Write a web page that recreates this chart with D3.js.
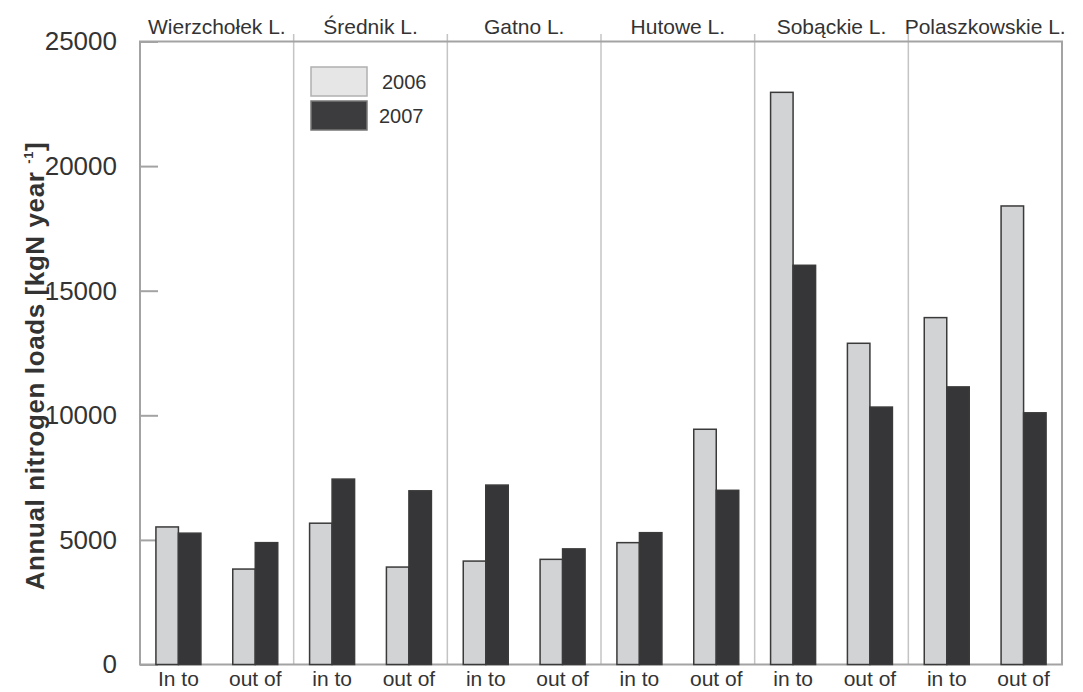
<!DOCTYPE html>
<html>
<head>
<meta charset="utf-8">
<script src="https://cdn.jsdelivr.net/npm/d3@7"></script>
<style>
  html, body { margin: 0; padding: 0; background: #fff; }
  svg { display: block; font-family: "Liberation Sans", Arial, Helvetica, sans-serif; }
</style>
</head>
<body>
<svg id="chart" width="1083" height="692"></svg>
<script>
// Lakes (groups), flow direction per bar pair, and annual loads per year
const lakes = ["Wierzchołek L.", "Średnik L.", "Gatno L.", "Hutowe L.", "Sobąckie L.", "Polaszkowskie L."];
const flowLabels = ["In to", "out of", "in to", "out of", "in to", "out of",
                    "in to", "out of", "in to", "out of", "in to", "out of"];
const years = ["2006", "2007"];
const load2006 = [5520, 3830, 5670, 3910, 4150, 4220, 4890, 9440, 22960, 12890, 13920, 18400];
const load2007 = [5270, 4890, 7440, 6970, 7200, 4640, 5290, 6990, 16020, 10330, 11140, 10100];
const yTicks = [0, 5000, 10000, 15000, 20000, 25000];

const svg = d3.select("#chart");
const plotLeft = 140, plotRight = 1062, plotTop = 41.5, plotBottom = 664.5;
const textColor = "#333";
const fills = { "2006": "#d2d3d5", "2007": "#363638" };

const slots = d3.range(flowLabels.length);
const x = d3.scaleBand().domain(slots).range([plotLeft, plotRight]).padding(0);
const xYear = d3.scaleBand().domain(years).range([0, 45]).padding(0);
const y = d3.scaleLinear().domain([0, 25000]).range([plotBottom, plotTop]);

// lake separators, extending above the frame
const groupEdges = d3.range(1, lakes.length).map(i => x(i * 2));
svg.append("g").selectAll("line").data(groupEdges).join("line")
  .attr("x1", d => d).attr("x2", d => d)
  .attr("y1", 34).attr("y2", plotBottom)
  .attr("stroke", "#c4c4c4").attr("stroke-width", 1.5);

// plot frame
svg.append("rect")
  .attr("x", plotLeft).attr("y", plotTop)
  .attr("width", plotRight - plotLeft).attr("height", plotBottom - plotTop)
  .attr("fill", "none").attr("stroke", "#a3a3a3").attr("stroke-width", 2);

// y axis with inward ticks
const yAxis = svg.append("g")
  .attr("transform", `translate(${plotLeft},0)`)
  .call(d3.axisLeft(y).tickValues(yTicks).tickFormat(d3.format("d")).tickSize(-18).tickPadding(23));
yAxis.select(".domain").remove();
yAxis.selectAll(".tick line").attr("stroke", "#a3a3a3").attr("stroke-width", 2);
yAxis.selectAll(".tick text")
  .attr("fill", textColor).attr("font-size", 26)
  .attr("font-family", "\"Liberation Sans\", Arial, sans-serif");

// bars
const rows = slots.map(i => ({ i, v: { "2006": load2006[i], "2007": load2007[i] } }));
const pair = svg.append("g").selectAll("g").data(rows).join("g")
  .attr("transform", d => `translate(${x(d.i) + (x.bandwidth() - xYear.range()[1]) / 2},0)`);
pair.selectAll("rect").data(d => years.map(yr => ({ yr, v: d.v[yr] }))).join("rect")
  .attr("x", d => xYear(d.yr))
  .attr("width", xYear.bandwidth())
  .attr("y", d => y(d.v))
  .attr("height", d => y(0) - y(d.v))
  .attr("fill", d => fills[d.yr])
  .attr("stroke", "#3a3a3a").attr("stroke-width", 1.5);

// flow labels under the bars
svg.append("g").selectAll("text").data(slots).join("text")
  .attr("x", d => x(d) + x.bandwidth() / 2)
  .attr("y", 686)
  .attr("text-anchor", "middle")
  .attr("font-size", 21)
  .attr("fill", textColor)
  .text(d => flowLabels[d]);

// lake names above the frame
svg.append("g").selectAll("text").data(lakes).join("text")
  .attr("x", (d, i) => (x(i * 2) + x(i * 2 + 1) + x.bandwidth()) / 2)
  .attr("y", 34)
  .attr("text-anchor", "middle")
  .attr("font-size", 21)
  .attr("fill", textColor)
  .text(d => d);

// y axis title
const title = svg.append("text")
  .attr("transform", "translate(44,366) rotate(-90)")
  .attr("text-anchor", "middle")
  .attr("font-size", 26)
  .attr("letter-spacing", 0.6)
  .attr("font-weight", "bold")
  .attr("fill", textColor);
title.append("tspan").text("Annual nitrogen loads [kgN year ");
title.append("tspan").attr("font-size", 13).attr("dy", -11).text("-1");
title.append("tspan").attr("dy", 11).text("]");

// legend
const legend = svg.append("g").attr("transform", "translate(311,67)");
const legendRows = legend.selectAll("g").data(years).join("g")
  .attr("transform", (d, i) => `translate(0,${i * 34})`);
legendRows.append("rect")
  .attr("width", 56).attr("height", 29)
  .attr("fill", d => d === "2006" ? "#e6e6e6" : "#3c3c3e")
  .attr("stroke", d => d === "2006" ? "#b0b0b0" : "#777")
  .attr("stroke-width", 1.5);
legendRows.append("text")
  .attr("x", (d, i) => i === 0 ? 71 : 68)
  .attr("y", 22)
  .attr("font-size", 20)
  .attr("fill", textColor)
  .text(d => d);
</script>
</body>
</html>
